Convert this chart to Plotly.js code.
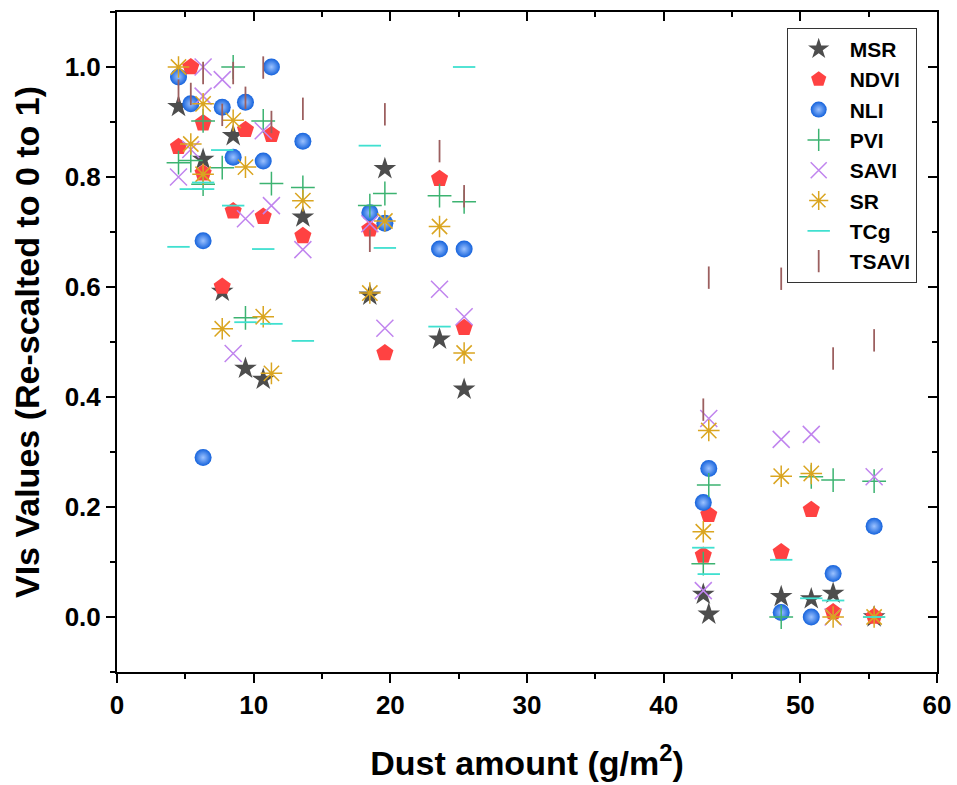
<!DOCTYPE html>
<html><head><meta charset="utf-8">
<script src="https://cdn.plot.ly/plotly-3.0.1.min.js"></script>
<style>html,body{margin:0;padding:0;background:#fff}#chart{width:957px;height:785px}</style>
</head><body><div id="chart"></div>
<script>
// Dust amount (g/m^2) for each sample
const dust  = [4.5, 5.4, 6.3, 6.3, 7.7, 8.5, 9.4, 10.7, 11.3, 13.6, 18.5, 19.6, 23.6, 25.4, 42.9, 43.3, 48.6, 50.8, 52.4, 55.4];
const msr   = [0.928, null, 0.832, null, 0.592, 0.875, 0.452, 0.432, null, 0.727, 0.585, 0.815, 0.505, 0.414, 0.041, 0.005, 0.037, 0.033, 0.043, 0.000];
const ndvi  = [0.855, 1.000, 0.898, 0.807, 0.601, 0.738, 0.886, 0.728, 0.877, 0.693, 0.705, 0.480, 0.797, 0.526, 0.112, 0.186, 0.118, 0.195, 0.009, 0.001];
const nli   = [0.982, 0.933, 0.684, 0.290, 0.927, 0.836, 0.936, 0.829, 1.000, 0.865, 0.735, 0.716, 0.669, 0.669, 0.208, 0.270, 0.008, 0.000, 0.079, 0.165];
const pvi   = [0.826, 0.830, 0.902, 0.787, 0.817, 1.000, 0.544, 0.902, 0.788, 0.781, 0.748, 0.770, 0.766, 0.755, 0.097, 0.240, 0.000, 0.255, 0.249, 0.247];
const savi  = [0.800, 0.850, 1.000, 0.947, 0.977, 0.479, 0.724, 0.884, 0.748, 0.668, 0.715, 0.525, 0.596, 0.546, 0.048, 0.361, 0.323, 0.332, 0.000, 0.255];
const sr    = [1.000, 0.860, 0.933, 0.805, 0.524, 0.903, 0.818, 0.546, 0.443, 0.757, 0.589, 0.720, 0.710, 0.480, 0.155, 0.339, 0.256, 0.261, 0.000, 0.000];
const tcg   = [0.673, 0.778, 0.778, 0.790, 0.849, 0.748, 0.536, 0.669, 0.533, 0.502, 0.857, 0.671, 0.528, 1.000, 0.126, 0.078, 0.104, 0.034, 0.030, 0.000];
const tsavi = [0.957, 0.951, 0.989, null, 0.913, 0.989, 0.944, 0.999, 0.900, 0.924, 0.684, 0.914, 0.847, 0.765, 0.377, 0.617, 0.615, null, 0.470, 0.503];

const seriesNames = ['MSR', 'NDVI', 'NLI', 'PVI', 'SAVI', 'SR', 'TCg', 'TSAVI'];
const seriesVals  = [msr, ndvi, nli, pvi, savi, sr, tcg, tsavi];

const FONT = 'Liberation Sans, Arial, sans-serif';
const styles = [
  {symbol:'star', size:17, color:'#4d4d4d', line:{width:0}},
  {symbol:'pentagon', size:18, color:'#ff4242', line:{width:0}},
  {symbol:'circle', size:17, color:'#1462dc', line:{width:0}, gradient:{type:'radial', color:'#9cc2ff'}},
  {symbol:'cross-thin-open', size:17, color:'#3cb371', line:{width:1.5, color:'#3cb371'}},
  {symbol:'x-thin-open', size:17, color:'#c084ee', line:{width:1.5, color:'#c084ee'}},
  {symbol:'asterisk-open', size:18, color:'#daa520', line:{width:1.5, color:'#daa520'}},
  {symbol:'line-ew-open', size:16, color:'#40e0d0', line:{width:1.8, color:'#40e0d0'}},
  {symbol:'line-ns-open', size:16, color:'#9c5f5f', line:{width:1.8, color:'#9c5f5f'}}
];

const traces = seriesNames.map((n, i) => ({
  type:'scatter', mode:'markers', name:n, x:dust, y:seriesVals[i],
  marker: styles[i], cliponaxis:false
}));
// helper trace so the mirrored top/right axes are drawn
traces.push({type:'scatter', mode:'markers', x:[], y:[], xaxis:'x2', yaxis:'y2', showlegend:false, hoverinfo:'skip'});

const tickFont = {family:FONT, size:26, color:'#000', weight:700};
const layout = {
  width:957, height:785,
  margin:{l:117, r:20, t:12, b:113},
  paper_bgcolor:'#fff', plot_bgcolor:'#fff',
  showlegend:true,
  legend:{
    x:0.8167, y:0.976, xanchor:'left', yanchor:'top',
    bgcolor:'#fff', bordercolor:'#333', borderwidth:1,
    font:{family:FONT, size:21, color:'#000', weight:700},
    itemwidth:52, tracegroupgap:0
  },
  xaxis:{
    range:[0,60], tick0:0, dtick:10, ticks:'outside', ticklen:9, tickwidth:2, tickcolor:'#000',
    showline:true, linewidth:2, linecolor:'#000', mirror:true,
    showgrid:false, zeroline:false, automargin:false,
    minor:{ticks:'outside', dtick:5, ticklen:5, tickwidth:2, tickcolor:'#000'},
    tickfont:tickFont,
    title:{text:'Dust amount (g/m<sup>2</sup>)', font:{family:FONT, size:34, color:'#000', weight:700}, standoff:32}
  },
  yaxis:{
    range:[-0.1,1.1], tick0:0, dtick:0.2, tickformat:'.1f', ticks:'outside', ticklen:9, tickwidth:2, tickcolor:'#000',
    showline:true, linewidth:2, linecolor:'#000', mirror:true,
    showgrid:false, zeroline:false, automargin:false,
    minor:{ticks:'outside', dtick:0.1, ticklen:5, tickwidth:2, tickcolor:'#000'},
    tickfont:tickFont,
    title:{text:'VIs Values (Re-scalted to 0 to 1)', font:{family:FONT, size:34, color:'#000', weight:700}, standoff:15}
  },
  xaxis2:{
    overlaying:'x', side:'top', anchor:'y', range:[0,60], tick0:0, dtick:10,
    ticks:'inside', ticklen:9, tickwidth:2, tickcolor:'#000', showticklabels:false,
    showline:false, showgrid:false, zeroline:false,
    minor:{ticks:'inside', dtick:5, ticklen:5, tickwidth:2, tickcolor:'#000'}
  },
  yaxis2:{
    overlaying:'y', side:'right', anchor:'x', range:[-0.1,1.1], tick0:0, dtick:0.2,
    ticks:'inside', ticklen:9, tickwidth:2, tickcolor:'#000', showticklabels:false,
    showline:false, showgrid:false, zeroline:false,
    minor:{ticks:'inside', dtick:0.1, ticklen:5, tickwidth:2, tickcolor:'#000'}
  }
};

Plotly.newPlot('chart', traces, layout, {displayModeBar:false, staticPlot:true});
</script>
</body></html>
